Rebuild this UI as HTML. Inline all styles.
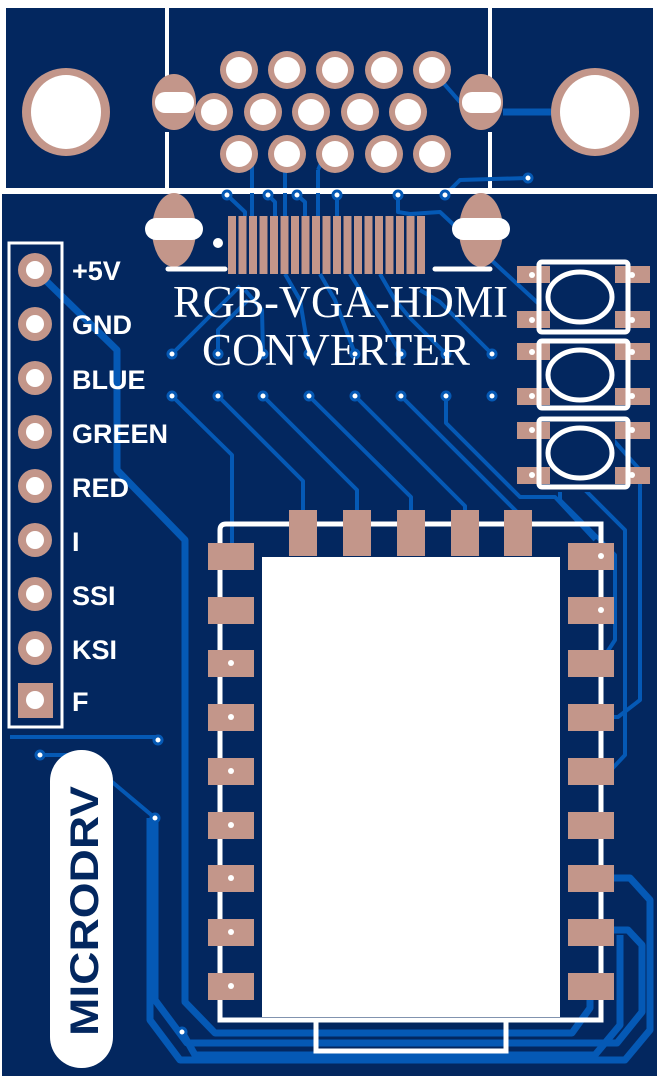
<!DOCTYPE html>
<html><head><style>html,body{margin:0;padding:0;background:#fff}svg{display:block}</style></head>
<body>
<svg width="659" height="1078" viewBox="0 0 659 1078" xmlns="http://www.w3.org/2000/svg" font-family="Liberation Sans, sans-serif">
<rect width="659" height="1078" fill="#fff"/>
<rect x="6" y="8" width="647" height="180" fill="#03275f"/>
<rect x="2" y="194" width="655" height="882" fill="#03275f"/>
<line x1="167" y1="8" x2="167" y2="92" stroke="#fff" stroke-width="4"/>
<line x1="167" y1="132" x2="167" y2="188" stroke="#fff" stroke-width="4"/>
<line x1="490" y1="8" x2="490" y2="92" stroke="#fff" stroke-width="4"/>
<line x1="490" y1="132" x2="490" y2="188" stroke="#fff" stroke-width="4"/>

<g fill="none" stroke="#0559b5" stroke-width="4" stroke-linejoin="round">
<path d="M432 70 L460 102"/>
<path d="M252 154 V216 M285 154 V216 M318 170 L318 216 M325 154 L318 170"/>
<path d="M227 195 L245 212 V216 M268 195 L275 202 V216 M297 195 L305 202 V216 M337 195 V216 M398 195 V212 L410 214 L440 212 L502 270 L540 305"/>
<path d="M445 195 L460 180 L528 178"/>
<path d="M172 354 L240 286 M218 354 V330 L248 300 M263 354 L262 310 L245 290 M309 354 L300 300 L285 274 M355 354 L335 300 L320 274 M401 354 L380 318 L360 290 L350 274 M446 354 L410 318 L395 300 L380 274 M492 354 L440 302 L420 290"/>
<path d="M172 396 L232 455 V545"/>
<path d="M218 396 L303 481 V510"/>
<path d="M263 396 L357 490 V510"/>
<path d="M309 396 L411 497 V510"/>
<path d="M355 396 L465 506 V510"/>
<path d="M401 396 L520 515"/>
<path d="M446 396 V423 L520 497 L555 497 L595 540"/>
<path d="M10 737 H158"/>
<path d="M40 755 H80 L155 818"/>
<path d="M585 315 V420 M600 315 V425 L640 470 V700 L618 717 H605"/>
<path d="M570 420 V475 L625 530 V755 L610 771 H600"/>
<path d="M560 450 V500 L615 555 V640 L600 663"/>
</g>
<g fill="none" stroke="#0559b5" stroke-width="7" stroke-linejoin="round">
<path d="M503 112 H552"/>
<path d="M35 270 L117 350 V470 L185 540 V1002 L215 1033 H572 L590 1008 V990"/>
<path d="M155 818 V1000 L187 1043 H617 L642 1012 V945 L628 930 H610"/>
<path d="M182 1032 L195 1055 H595 L620 1025 V935"/>
<path d="M610 878 H630 L650 900 V1030 L625 1060 H180 L150 1020 V818"/>
</g>

<ellipse cx="66" cy="112" rx="44" ry="44" fill="#c3968a"/>
<ellipse cx="66" cy="112" rx="35" ry="37" fill="#fff"/>
<ellipse cx="595" cy="112" rx="44" ry="44" fill="#c3968a"/>
<ellipse cx="595" cy="112" rx="35" ry="37" fill="#fff"/>
<g fill="#c3968a">
<ellipse cx="174" cy="102" rx="22" ry="28"/><ellipse cx="481" cy="102" rx="22" ry="28"/>
<ellipse cx="174" cy="230" rx="22" ry="37"/><ellipse cx="481" cy="230" rx="22" ry="37"/>
</g>
<g fill="#fff">
<rect x="155" y="92" width="39" height="21" rx="10"/><rect x="462" y="92" width="39" height="21" rx="10"/>
<rect x="145" y="218" width="58" height="22" rx="11"/><rect x="452" y="218" width="58" height="22" rx="11"/>
</g>
<g fill="#c3968a">
<circle cx="239" cy="70" r="19"/><circle cx="287" cy="70" r="19"/><circle cx="335" cy="70" r="19"/><circle cx="384" cy="70" r="19"/><circle cx="432" cy="70" r="19"/>
<circle cx="214" cy="112" r="19"/><circle cx="263" cy="112" r="19"/><circle cx="311" cy="112" r="19"/><circle cx="360" cy="112" r="19"/><circle cx="408" cy="112" r="19"/>
<circle cx="239" cy="154" r="19"/><circle cx="287" cy="154" r="19"/><circle cx="335" cy="154" r="19"/><circle cx="384" cy="154" r="19"/><circle cx="432" cy="154" r="19"/>
</g>
<g fill="#fff">
<circle cx="239" cy="70" r="13"/><circle cx="287" cy="70" r="13"/><circle cx="335" cy="70" r="13"/><circle cx="384" cy="70" r="13"/><circle cx="432" cy="70" r="13"/>
<circle cx="214" cy="112" r="13"/><circle cx="263" cy="112" r="13"/><circle cx="311" cy="112" r="13"/><circle cx="360" cy="112" r="13"/><circle cx="408" cy="112" r="13"/>
<circle cx="239" cy="154" r="13"/><circle cx="287" cy="154" r="13"/><circle cx="335" cy="154" r="13"/><circle cx="384" cy="154" r="13"/><circle cx="432" cy="154" r="13"/>
</g>
<rect x="0" y="188" width="659" height="5" fill="#fff"/>

<g fill="#c3968a">
<rect x="228" y="216" width="8" height="58"/><rect x="238.5" y="216" width="8" height="58"/><rect x="249" y="216" width="8" height="58"/><rect x="259.5" y="216" width="8" height="58"/><rect x="270" y="216" width="8" height="58"/><rect x="280.5" y="216" width="8" height="58"/><rect x="291" y="216" width="8" height="58"/><rect x="301.5" y="216" width="8" height="58"/><rect x="312" y="216" width="8" height="58"/><rect x="322.5" y="216" width="8" height="58"/><rect x="333" y="216" width="8" height="58"/><rect x="343.5" y="216" width="8" height="58"/><rect x="354" y="216" width="8" height="58"/><rect x="364.5" y="216" width="8" height="58"/><rect x="375" y="216" width="8" height="58"/><rect x="385.5" y="216" width="8" height="58"/><rect x="396" y="216" width="8" height="58"/><rect x="406.5" y="216" width="8" height="58"/><rect x="417" y="216" width="8" height="58"/>
</g>
<circle cx="218" cy="243" r="5" fill="#fff"/>
<g stroke="#fff" stroke-width="5" stroke-linecap="round"><line x1="168" y1="269" x2="225" y2="269"/><line x1="435" y1="269" x2="490" y2="269"/></g>

<g fill="#fff" stroke="#0559b5" stroke-width="3">
<circle cx="227" cy="195" r="4"/><circle cx="268" cy="195" r="4"/><circle cx="297" cy="195" r="4"/><circle cx="337" cy="195" r="4"/><circle cx="398" cy="195" r="4"/><circle cx="445" cy="195" r="4"/><circle cx="528" cy="178" r="4"/>
<circle cx="172" cy="354" r="4"/><circle cx="218" cy="354" r="4"/><circle cx="263" cy="354" r="4"/><circle cx="309" cy="354" r="4"/><circle cx="355" cy="354" r="4"/><circle cx="401" cy="354" r="4"/><circle cx="446" cy="354" r="4"/><circle cx="492" cy="354" r="4"/>
<circle cx="172" cy="396" r="4"/><circle cx="218" cy="396" r="4"/><circle cx="263" cy="396" r="4"/><circle cx="309" cy="396" r="4"/><circle cx="355" cy="396" r="4"/><circle cx="401" cy="396" r="4"/><circle cx="446" cy="396" r="4"/><circle cx="492" cy="396" r="4"/>
<circle cx="158" cy="740" r="4"/><circle cx="40" cy="755" r="4"/><circle cx="155" cy="818" r="4"/><circle cx="182" cy="1032" r="4"/>
</g>

<g fill="#fff" font-family="Liberation Serif, serif" font-size="45">
<text x="173" y="317" textLength="335" lengthAdjust="spacingAndGlyphs">RGB-VGA-HDMI</text>
<text x="202" y="365" textLength="268" lengthAdjust="spacingAndGlyphs">CONVERTER</text>
</g>

<g fill="#c3968a">
<rect x="517" y="266" width="133" height="17"/><rect x="517" y="311" width="133" height="17"/>
<rect x="517" y="343" width="133" height="17"/><rect x="517" y="388" width="133" height="17"/>
<rect x="517" y="422" width="133" height="17"/><rect x="517" y="467" width="133" height="17"/>
</g>
<g fill="#03275f"><rect x="550" y="262" width="65" height="230"/></g>
<g fill="none" stroke="#fff" stroke-width="5">
<rect x="539" y="262" width="89" height="70" rx="3"/><rect x="539" y="341" width="89" height="67" rx="3"/><rect x="539" y="419" width="89" height="68" rx="3"/>
<ellipse cx="580" cy="297" rx="32" ry="25"/><ellipse cx="580" cy="375" rx="32" ry="25"/><ellipse cx="580" cy="453" rx="32" ry="25"/>
</g>
<g fill="#fff"><circle cx="532" cy="275" r="3"/><circle cx="532" cy="320" r="3"/><circle cx="632" cy="275" r="3"/><circle cx="632" cy="320" r="3"/><circle cx="532" cy="352" r="3"/><circle cx="532" cy="396" r="3"/><circle cx="632" cy="352" r="3"/><circle cx="632" cy="396" r="3"/><circle cx="532" cy="430" r="3"/><circle cx="532" cy="475" r="3"/><circle cx="632" cy="430" r="3"/><circle cx="632" cy="475" r="3"/></g>

<path d="M220 1020 V530 Q220 524 226 524 H601 V1020 Z M316 1020 V1051 H506 V1020" fill="none" stroke="#fff" stroke-width="5"/>
<rect x="262" y="557" width="298" height="460" fill="#fff"/>
<g fill="#c3968a">
<rect x="289" y="510" width="28" height="46"/><rect x="343" y="510" width="28" height="46"/><rect x="397" y="510" width="28" height="46"/><rect x="451" y="510" width="28" height="46"/><rect x="504" y="510" width="28" height="46"/>
<rect x="208" y="543" width="46" height="27"/><rect x="208" y="597" width="46" height="27"/><rect x="208" y="650" width="46" height="27"/><rect x="208" y="704" width="46" height="27"/><rect x="208" y="758" width="46" height="27"/><rect x="208" y="812" width="46" height="27"/><rect x="208" y="865" width="46" height="27"/><rect x="208" y="919" width="46" height="27"/><rect x="208" y="973" width="46" height="27"/>
<rect x="568" y="543" width="46" height="27"/><rect x="568" y="597" width="46" height="27"/><rect x="568" y="650" width="46" height="27"/><rect x="568" y="704" width="46" height="27"/><rect x="568" y="758" width="46" height="27"/><rect x="568" y="812" width="46" height="27"/><rect x="568" y="865" width="46" height="27"/><rect x="568" y="919" width="46" height="27"/><rect x="568" y="973" width="46" height="27"/>
</g>
<g fill="#fff"><circle cx="601" cy="556" r="3"/><circle cx="601" cy="610" r="3"/><circle cx="231" cy="663" r="3"/><circle cx="231" cy="717" r="3"/><circle cx="231" cy="771" r="3"/><circle cx="231" cy="825" r="3"/><circle cx="231" cy="878" r="3"/><circle cx="231" cy="932" r="3"/><circle cx="231" cy="986" r="3"/></g>

<rect x="9" y="243" width="53" height="484" fill="none" stroke="#fff" stroke-width="3"/>
<g fill="#c3968a">
<circle cx="35" cy="270" r="17"/><circle cx="35" cy="324" r="17"/><circle cx="35" cy="378" r="17"/><circle cx="35" cy="432" r="17"/><circle cx="35" cy="486" r="17"/><circle cx="35" cy="540" r="17"/><circle cx="35" cy="594" r="17"/><circle cx="35" cy="648" r="17"/>
<rect x="18" y="683" width="35" height="35"/>
</g>
<g fill="#fff">
<circle cx="35" cy="270" r="9"/><circle cx="35" cy="324" r="9"/><circle cx="35" cy="378" r="9"/><circle cx="35" cy="432" r="9"/><circle cx="35" cy="486" r="9"/><circle cx="35" cy="540" r="9"/><circle cx="35" cy="594" r="9"/><circle cx="35" cy="648" r="9"/><circle cx="35" cy="700" r="9"/>
</g>
<g fill="#fff" font-weight="bold" font-size="27">
<text x="72" y="280">+5V</text><text x="72" y="334">GND</text><text x="72" y="389">BLUE</text><text x="72" y="443">GREEN</text><text x="72" y="497">RED</text><text x="72" y="551">I</text><text x="72" y="605">SSI</text><text x="72" y="659">KSI</text><text x="72" y="711">F</text>
</g>

<rect x="50" y="750" width="63" height="318" rx="31" fill="#fff"/>
<text transform="translate(98 1036) rotate(-90)" fill="#03275f" font-weight="bold" font-size="40" textLength="250" lengthAdjust="spacingAndGlyphs">MICRODRV</text>
</svg>
</body></html>
